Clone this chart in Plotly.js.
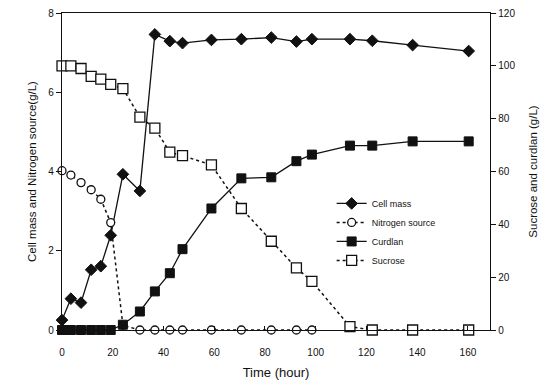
<!DOCTYPE html>
<html>
<head>
<meta charset="utf-8">
<script src="https://cdn.plot.ly/plotly-3.0.1.min.js"></script>
<style>html,body{margin:0;padding:0;background:#fff;}#chart{width:551px;height:386px;}</style>
</head>
<body>
<div id="chart"></div>
<script>
// Time points (hour)
const timeH = [0, 3.5, 7.5, 11.5, 15.3, 19.2, 24, 30.7, 36.6, 42.5, 47.5, 58.9, 70.7, 82.5, 92.4, 98.5, 113.5, 122.3, 138.2, 160.3];
// Left axis (g/L)
const cellMass = [0.25, 0.79, 0.69, 1.52, 1.61, 2.39, 3.93, 3.51, 7.46, 7.29, 7.24, 7.32, 7.34, 7.38, 7.28, 7.34, 7.34, 7.30, 7.19, 7.04];
const nitrogenSource = [4.02, 3.91, 3.72, 3.54, 3.30, 2.71, 0.12, 0, 0, 0, 0, 0, 0, 0, 0, 0, null, null, null, null];
// Right axis (g/L)
const curdlan = [0, 0, 0, 0, 0, 0, 2, 7, 14.6, 21.5, 30.6, 46, 57.4, 57.8, 63.9, 66.4, 69.8, 69.8, 71.4, 71.4];
const sucrose = [100, 100, 99, 96, 95, 93, 91.4, 80.6, 76.4, 67.3, 66, 62.5, 46, 33.6, 23.5, 18.4, 1.3, 0, 0, 0];

const xTicks = [0, 20, 40, 60, 80, 100, 120, 140, 160];
const yTicks = [0, 2, 4, 6, 8];
const y2Ticks = [0, 20, 40, 60, 80, 100, 120];

const fnt = {family: 'Arial, "Liberation Sans", sans-serif', size: 10, color: '#111'};

const traces = [
  {x: timeH, y: cellMass, name: 'Cell mass', type: 'scatter', mode: 'lines+markers', yaxis: 'y',
   cliponaxis: false,
   line: {color: '#111', width: 1.3},
   marker: {symbol: 'diamond', size: 9, color: '#111', line: {color: '#111', width: 1}}},
  {x: timeH, y: nitrogenSource, name: 'Nitrogen source', type: 'scatter', mode: 'lines+markers', yaxis: 'y',
   cliponaxis: false, connectgaps: false,
   line: {color: '#111', width: 1.5, dash: 'dot'},
   marker: {symbol: 'circle', size: 8, color: '#fff', line: {color: '#111', width: 1.3}}},
  {x: timeH, y: curdlan, name: 'Curdlan', type: 'scatter', mode: 'lines+markers', yaxis: 'y2',
   cliponaxis: false,
   line: {color: '#111', width: 1.3},
   marker: {symbol: 'square', size: 9, color: '#111', line: {color: '#111', width: 1}}},
  {x: timeH, y: sucrose, name: 'Sucrose', type: 'scatter', mode: 'lines+markers', yaxis: 'y2',
   cliponaxis: false,
   line: {color: '#111', width: 1.5, dash: 'dot'},
   marker: {symbol: 'square', size: 10, color: '#fff', line: {color: '#111', width: 1.3}}}
];

const layout = {
  width: 551, height: 386,
  margin: {l: 62, r: 61, t: 13, b: 56},
  paper_bgcolor: '#fff', plot_bgcolor: '#fff',
  font: fnt,
  showlegend: true,
  legend: {x: 0.63, y: 0.445, xanchor: 'left', yanchor: 'top', bgcolor: 'rgba(0,0,0,0)',
           font: {family: fnt.family, size: 9, color: '#111'}, itemwidth: 30, tracegroupgap: 0},
  xaxis: {range: [0, 168.7], tickvals: xTicks, ticktext: xTicks.map(String),
          showgrid: false, zeroline: false, showline: true, linecolor: '#111', linewidth: 1.3, mirror: true,
          ticks: 'inside', ticklen: 4, tickcolor: '#111', ticklabelstandoff: 13,
          tickfont: fnt,
          title: {text: 'Time (hour)', font: {family: fnt.family, size: 13, color: '#111'}, standoff: 10}},
  yaxis: {range: [0, 8], tickvals: yTicks, ticktext: yTicks.map(String),
          showgrid: false, zeroline: false, showline: true, linecolor: '#111', linewidth: 1.3,
          ticks: 'outside', ticklen: 5, tickcolor: '#111', tickfont: fnt,
          title: {text: 'Cell mass and Nitrogen source(g/L)', font: {family: fnt.family, size: 11.5, color: '#111'}, standoff: 9}},
  yaxis2: {range: [0, 120], tickvals: y2Ticks, ticktext: y2Ticks.map(String), overlaying: 'y', side: 'right',
           showgrid: false, zeroline: false, showline: true, linecolor: '#111', linewidth: 1.3,
           ticks: 'outside', ticklen: 5, tickcolor: '#111', tickfont: fnt,
           title: {text: 'Sucrose and curdlan (g/L)', font: {family: fnt.family, size: 11.5, color: '#111'}, standoff: 14}}
};

Plotly.newPlot('chart', traces, layout, {staticPlot: true, displayModeBar: false});
</script>
</body>
</html>
